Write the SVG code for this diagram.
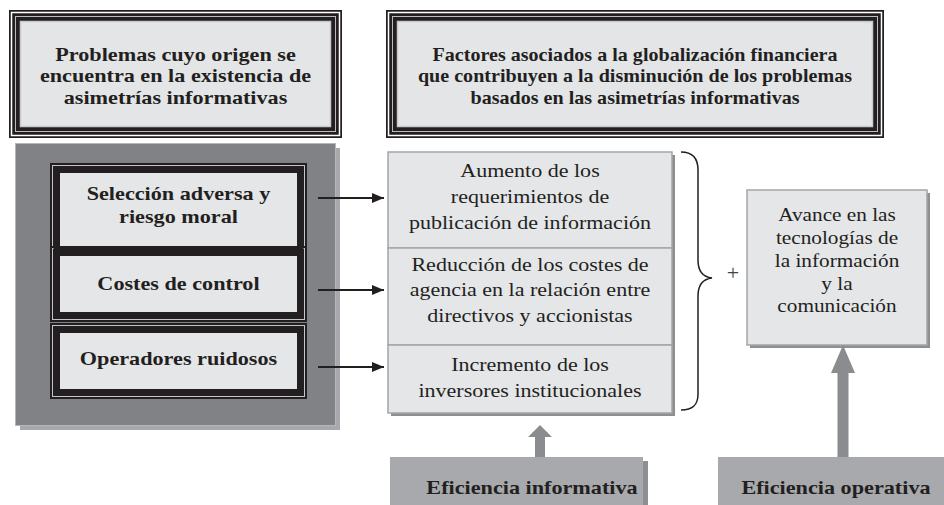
<svg xmlns="http://www.w3.org/2000/svg" width="944" height="505" viewBox="0 0 944 505">
<style>
.b{font-family:"Liberation Serif","Times New Roman",serif;font-weight:bold;font-size:18.5px;fill:#231f20;text-anchor:middle}
.r{font-family:"Liberation Serif","Times New Roman",serif;font-size:18.5px;fill:#231f20;text-anchor:middle}
.blk{fill:#231f20}
.box{fill:#e5e6e8;stroke:#a3a5a8;stroke-width:1.5}
.sh{fill:#8d8f92}
.garrow{fill:#8a8c8f}
.eff{fill:#a7a9ac}
</style>
<defs>
<marker id="ah" markerWidth="12" markerHeight="10" refX="12" refY="5" orient="auto" markerUnits="userSpaceOnUse">
<path d="M0,0 L12,5 L0,10 Z" fill="#231f20"/>
</marker>
</defs>

<g id="header-left">
<rect x="9" y="10" width="333" height="128" class="blk"/>
<rect x="11.5" y="12.5" width="328" height="123" fill="none" stroke="#fff" stroke-width="1.5"/>
<rect x="15.5" y="16.5" width="320" height="115" fill="none" stroke="#bcbdc0" stroke-width="1"/>
<rect x="20.5" y="21.5" width="310" height="105" fill="#e4e5e7" stroke="#c9cacc" stroke-width="1.5"/>
<text class="b" transform="translate(175.5,0) scale(1.2,1)"><tspan x="0" y="61">Problemas cuyo origen se</tspan><tspan x="0" y="82.5">encuentra en la existencia de</tspan><tspan x="0" y="104">asimetrías informativas</tspan></text>
</g>

<g id="header-right">
<rect x="386" y="10" width="498" height="128" class="blk"/>
<rect x="388.5" y="12.5" width="493" height="123" fill="none" stroke="#fff" stroke-width="1.5"/>
<rect x="392.5" y="16.5" width="485" height="115" fill="none" stroke="#bcbdc0" stroke-width="1"/>
<rect x="397.5" y="21.5" width="475" height="105" fill="#e4e5e7" stroke="#c9cacc" stroke-width="1.5"/>
<text class="b" transform="translate(635,0) scale(1.086,1)"><tspan x="0" y="61">Factores asociados a la globalización financiera</tspan><tspan x="0" y="82.5">que contribuyen a la disminución de los problemas</tspan><tspan x="0" y="104">basados en las asimetrías informativas</tspan></text>
</g>

<g id="panel-left">
<rect x="20" y="148" width="320" height="282" fill="#a7a9ac"/>
<rect x="15.5" y="143.5" width="320" height="282" fill="#808285" stroke="#b5b7ba" stroke-width="1"/>
</g>

<g id="box-seleccion">
<rect x="50" y="163" width="257" height="93" class="blk"/>
<rect x="52.5" y="165.5" width="252" height="88" fill="none" stroke="#c4c5c8" stroke-width="1"/>
<rect x="60" y="173" width="237" height="73" fill="#e5e6e8"/>
<text class="b" transform="translate(178.5,0) scale(1.2,1)"><tspan x="0" y="200">Selección adversa y</tspan><tspan x="0" y="223">riesgo moral</tspan></text>
</g>

<g id="box-costes">
<rect x="50" y="246" width="257" height="76" class="blk"/>
<rect x="52.5" y="248.5" width="252" height="71" fill="none" stroke="#c4c5c8" stroke-width="1"/>
<rect x="53.5" y="246" width="250" height="9" class="blk"/>
<rect x="60" y="256" width="237" height="56" fill="#e5e6e8"/>
<text class="b" transform="translate(178.5,0) scale(1.2,1)" x="0" y="290.5">Costes de control</text>
</g>

<g id="box-operadores">
<rect x="50" y="323" width="257" height="76" class="blk"/>
<rect x="52.5" y="325.5" width="252" height="71" fill="none" stroke="#c4c5c8" stroke-width="1"/>
<rect x="60" y="333" width="237" height="56" fill="#e5e6e8"/>
<text class="b" transform="translate(178.5,0) scale(1.2,1)" x="0" y="365">Operadores ruidosos</text>
</g>

<g id="box-aumento">
<rect x="391" y="155" width="284" height="96" class="sh"/>
<rect x="388" y="152" width="284" height="96" class="box"/>
<text class="r" transform="translate(530,0) scale(1.19,1)"><tspan x="0" y="177">Aumento de los</tspan><tspan x="0" y="203.5">requerimientos de</tspan><tspan x="0" y="229">publicación de información</tspan></text>
</g>

<g id="box-reduccion">
<rect x="391" y="251" width="284" height="97" class="sh"/>
<rect x="388" y="248" width="284" height="97" class="box"/>
<text class="r" transform="translate(530,0) scale(1.19,1)"><tspan x="0" y="271">Reducción de los costes de</tspan><tspan x="0" y="296.5">agencia en la relación entre</tspan><tspan x="0" y="322">directivos y accionistas</tspan></text>
</g>

<g id="box-incremento">
<rect x="391" y="348" width="284" height="68" class="sh"/>
<rect x="388" y="345" width="284" height="68" class="box"/>
<text class="r" transform="translate(530,0) scale(1.19,1)"><tspan x="0" y="371">Incremento de los</tspan><tspan x="0" y="397">inversores institucionales</tspan></text>
</g>

<g id="brace">
<path d="M681,152 C693,152 698,159 698,170 L698,260 C698,271 703,277 712,278 C703,279 698,285 698,296 L698,394 C698,405 693,410 681,410" fill="none" stroke="#231f20" stroke-width="1.5"/>
<text class="r" x="733" y="279.5" style="fill:#444;font-size:22px">+</text>
</g>

<g id="box-avance">
<rect x="750" y="193" width="180" height="155" class="sh"/>
<rect x="747" y="190" width="180" height="155" class="box"/>
<text class="r" transform="translate(837,0) scale(1.15,1)"><tspan x="0" y="221">Avance en las</tspan><tspan x="0" y="244">tecnologías de</tspan><tspan x="0" y="267">la información</tspan><tspan x="0" y="290">y la</tspan><tspan x="0" y="312">comunicación</tspan></text>
</g>

<g id="box-ef-informativa">
<rect x="643" y="461" width="5" height="44" class="sh"/>
<rect x="390" y="457" width="253" height="48" class="eff"/>
<text class="b" transform="translate(532,0) scale(1.2,1)" x="0" y="494">Eficiencia informativa</text>
</g>

<g id="box-ef-operativa">
<rect x="718" y="457" width="226" height="48" class="eff"/>
<text class="b" transform="translate(836,0) scale(1.2,1)" x="0" y="494">Eficiencia operativa</text>
</g>

<g id="connectors">
<line x1="318" y1="198" x2="384" y2="198" stroke="#231f20" stroke-width="2" marker-end="url(#ah)"/>
<line x1="318" y1="290" x2="384" y2="290" stroke="#231f20" stroke-width="2" marker-end="url(#ah)"/>
<line x1="318" y1="367" x2="384" y2="367" stroke="#231f20" stroke-width="2" marker-end="url(#ah)"/>
<path class="garrow" d="M540,425 L552,437 L545,437 L545,457 L535,457 L535,437 L528,437 Z"/>
<path class="garrow" d="M843,345 L855,373 L848.5,373 L848.5,457 L837.5,457 L837.5,373 L831,373 Z"/>
</g>
</svg>
